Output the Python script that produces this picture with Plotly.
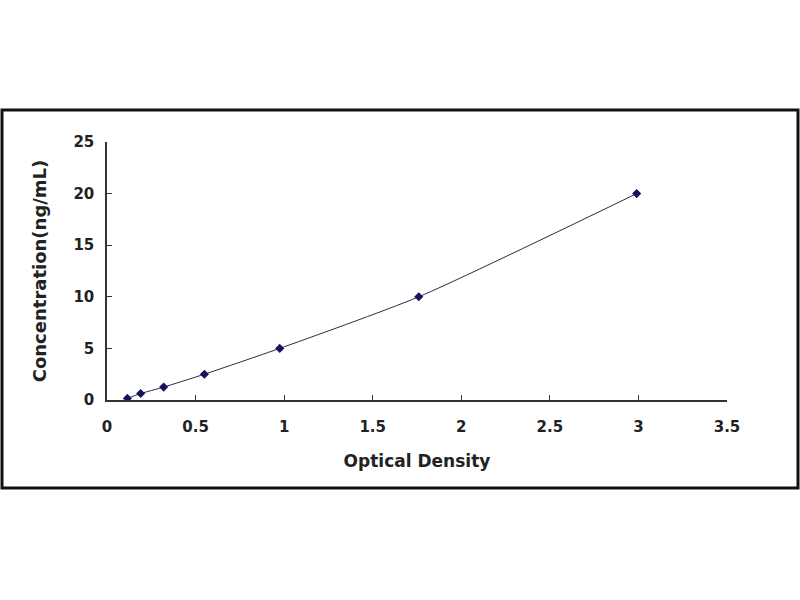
import plotly.graph_objects as go

optical_density = [0.115, 0.19, 0.32, 0.55, 0.975, 1.76, 2.99]
concentration = [0.156, 0.625, 1.25, 2.5, 5, 10, 20]

x_ticks = [0, 0.5, 1, 1.5, 2, 2.5, 3, 3.5]
y_ticks = [0, 5, 10, 15, 20, 25]

fig = go.Figure()
fig.add_trace(go.Scatter(
    x=optical_density, y=concentration, mode="lines+markers",
    line=dict(color="#2a2a4a", width=1, shape="spline", smoothing=0.6),
    marker=dict(symbol="diamond", size=7, color="#14145a"),
    showlegend=False,
))

tick_font = dict(family="DejaVu Sans", size=15, color="#222", weight="bold")
fig.update_layout(
    width=800, height=600,
    margin=dict(l=107, r=73, t=142, b=200),
    paper_bgcolor="white", plot_bgcolor="white",
    font=dict(family="DejaVu Sans", size=15, color="#222"),
    # outer frame around the whole chart
    shapes=[dict(type="rect", xref="paper", yref="paper",
                 x0=-105 / 620, x1=691 / 620, y0=-88 / 258, y1=32 / 258 + 1,
                 line=dict(color="#111", width=3))],
)
fig.update_xaxes(
    range=[0, 3.5], tickvals=x_ticks, ticktext=[str(v) for v in x_ticks],
    showgrid=False, zeroline=False, showline=True, linecolor="#333", linewidth=1.5,
    ticks="inside", ticklen=5, tickcolor="#333", tickfont=tick_font,
    ticklabelstandoff=12, automargin=False,
    title=dict(text="<b>Optical Density</b>", standoff=20, font=dict(size=17)),
)
fig.update_yaxes(
    range=[0, 25], tickvals=y_ticks,
    showgrid=False, zeroline=False, showline=True, linecolor="#333", linewidth=1.5,
    ticks="inside", ticklen=5, tickcolor="#333", tickfont=tick_font,
    ticklabelstandoff=8, automargin=False,
    title=dict(text="<b>Concentration(ng/mL)</b>", standoff=22, font=dict(size=18)),
)

fig.write_html("out.html", config={"displayModeBar": False},
               post_script="document.body.style.margin='0';")
